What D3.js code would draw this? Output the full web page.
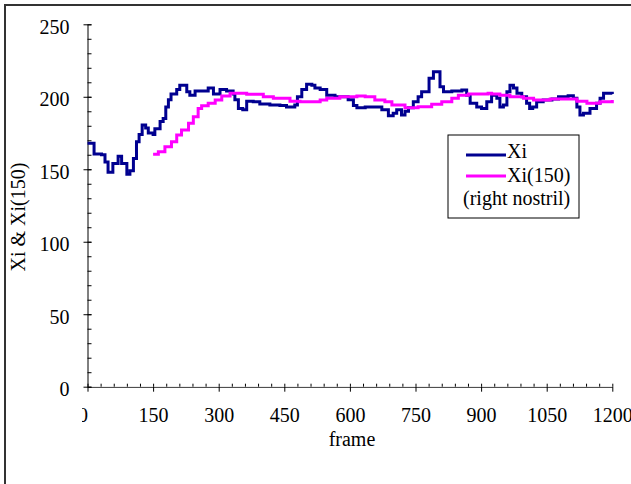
<!DOCTYPE html>
<html>
<head>
<meta charset="utf-8">
<script src="https://cdn.jsdelivr.net/npm/d3@7"></script>
<style>
  body { margin: 0; background: #fff; }
  svg { display: block; }
  text { font-family: "Liberation Serif", "Times New Roman", serif; fill: #000; }
</style>
</head>
<body>
<svg width="631" height="484"></svg>
<script>
// Xi (frame, value)
const xiFrames = [0, 15, 32, 40, 47, 58, 70, 78, 90, 97, 105, 112, 118, 125, 133, 139, 150, 154, 166, 173,
    179, 185, 191, 204, 211, 221, 227, 234, 246, 261, 276, 288, 303, 318, 333, 337, 345, 355, 364, 379,
    394, 417, 440, 455, 474, 480, 490, 501, 513, 520, 532, 547, 566, 581, 596, 608, 616, 635, 657, 673,
    688, 699, 707, 718, 726, 734, 745, 756, 764, 776, 781, 791, 802, 806, 814, 833, 856, 867, 875, 890,
    901, 913, 924, 936, 943, 951, 959, 966, 974, 982, 993, 1004, 1011, 1018, 1027, 1042, 1062, 1077, 1099, 1111,
    1119, 1126, 1134, 1149, 1164, 1172, 1180, 1195, 1200];
const xiValues = [168, 160.5, 160, 155, 148, 154, 159, 154, 146.5, 149, 157.5, 169, 174, 180.5, 178.5, 175, 174, 178, 183, 185,
    193, 198, 202, 205, 208, 208, 203.5, 201, 204, 204, 206, 202, 205, 204, 202, 198, 192, 191, 197, 196.6,
    195, 194.3, 194, 193, 194.3, 200, 205, 208.6, 208, 206, 205, 201, 200, 200, 198, 194, 192.5, 193, 193, 191,
    187, 188.6, 191, 187.4, 190, 192.5, 196.6, 200, 203.5, 203.5, 212.7, 217.3, 217.3, 207, 203.5, 204, 204.7, 201, 195.5, 193,
    192, 196.6, 201, 199, 193, 194.3, 203.5, 208, 206, 202.4, 200, 195.5, 192, 193, 196.6, 197.8, 198.5, 200, 200.7, 199,
    193, 187.4, 188.6, 192, 195.5, 199, 202.4, 202.4, 202];

// Xi(150), starts at frame 150
const avgFrames = [150, 162, 177, 192, 204, 215, 231, 242, 253, 261, 276, 292, 307, 326, 364, 402, 425, 463, 486, 532,
    547, 577, 616, 635, 657, 680, 696, 726, 756, 787, 810, 833, 848, 871, 916, 924, 943, 966, 997, 1020,
    1058, 1096, 1119, 1142, 1172, 1200];
const avgValues = [160.3, 162, 165.6, 169, 173.6, 177, 181.7, 186.3, 192, 193.8, 195.5, 197.8, 200.5, 202.4, 201.7, 200, 199, 197, 196.6, 197.8,
    199, 200, 200.5, 200, 197.8, 196.6, 194.3, 192.5, 193.2, 194.8, 196.6, 199, 201, 202, 202.4, 202, 201, 200, 199, 197.8,
    198.5, 198.5, 197, 195.5, 196.6, 197.8];

const xTicks = [0, 150, 300, 450, 600, 750, 900, 1050, 1200];
const yTicks = [0, 50, 100, 150, 200, 250];
const legendLabels = ["Xi", "Xi(150)", "(right nostril)"];

const svg = d3.select("svg");

// outer frame, runs off the right and bottom edges
svg.append("rect")
    .attr("x", 5).attr("y", 5)
    .attr("width", 660).attr("height", 500)
    .attr("fill", "none")
    .attr("stroke", "#333")
    .attr("stroke-width", 2);

const x = d3.scaleLinear().domain([0, 1200]).range([87.5, 612.3]);
const y = d3.scaleLinear().domain([0, 250]).range([386.7, 24.3]);

// minor ticks
svg.append("g")
    .attr("transform", `translate(0,${y(0)})`)
    .call(d3.axisBottom(x).tickValues(d3.range(0, 1201, 30)).tickSize(-3).tickFormat(""))
    .call(g => g.select(".domain").remove());

svg.append("g")
    .attr("transform", `translate(${x(0)},0)`)
    .call(d3.axisLeft(y).tickValues(d3.range(0, 251, 10)).tickSize(-4).tickFormat(""))
    .call(g => g.select(".domain").remove());

// clip for the x labels: the first "0" is cut in the original
svg.append("clipPath").attr("id", "xlab")
    .append("rect").attr("x", 82).attr("y", 0).attr("width", 631).attr("height", 484);

const xAxis = svg.append("g")
    .attr("transform", `translate(0,${y(0)})`)
    .attr("clip-path", "url(#xlab)")
    .call(d3.axisBottom(x).tickValues(xTicks).tickFormat(d3.format("d")).tickSize(5).tickSizeOuter(0));
xAxis.selectAll(".tick line").attr("y1", -5);
xAxis.selectAll(".tick text")
    .attr("y", 35).attr("dy", null)
    .attr("dx", d => d === 0 ? -5 : 0)
    .style("font-size", "20px")
    .style("font-family", "Liberation Serif");

const yAxis = svg.append("g")
    .attr("transform", `translate(${x(0)},0)`)
    .call(d3.axisLeft(y).tickValues(yTicks).tickSize(4).tickSizeOuter(0));
yAxis.selectAll(".tick line").attr("x1", 4);
yAxis.selectAll(".tick text")
    .attr("x", -18).attr("dy", null).attr("y", 9)
    .style("font-size", "20px")
    .style("font-family", "Liberation Serif");

// series
const line = d3.line()
    .x(d => x(d[0]))
    .y(d => y(d[1]))
    .curve(d3.curveStepAfter);

svg.append("path")
    .datum(xiFrames.map((f, i) => [f, xiValues[i]]))
    .attr("fill", "none")
    .attr("stroke", "#000090")
    .attr("stroke-width", 3)
    .attr("d", line);

svg.append("path")
    .datum(avgFrames.map((f, i) => [f, avgValues[i]]))
    .attr("fill", "none")
    .attr("stroke", "#ff00ff")
    .attr("stroke-width", 3)
    .attr("d", line);

// axis titles
svg.append("text")
    .attr("x", 352).attr("y", 446)
    .attr("text-anchor", "middle")
    .style("font-size", "20px")
    .text("frame");

svg.append("text")
    .attr("transform", "translate(25,217) rotate(-90)")
    .attr("text-anchor", "middle")
    .style("font-size", "20px")
    .text("Xi & Xi(150)");

// legend
const legend = svg.append("g");
legend.append("rect")
    .attr("x", 448).attr("y", 135)
    .attr("width", 131).attr("height", 83)
    .attr("fill", "#fff")
    .attr("stroke", "#000");

const legendColors = ["#000090", "#ff00ff"];
legendColors.forEach((c, i) => {
    legend.append("line")
        .attr("x1", 466).attr("x2", 506)
        .attr("y1", 155 + i * 21).attr("y2", 155 + i * 21)
        .attr("stroke", c)
        .attr("stroke-width", 3);
});

legend.selectAll("text.lab")
    .data(legendLabels)
    .join("text")
    .attr("class", "lab")
    .attr("x", (d, i) => i < 2 ? 507 : 463)
    .attr("y", (d, i) => 158 + i * 23.5)
    .style("font-size", "20px")
    .text(d => d);
</script>
</body>
</html>
